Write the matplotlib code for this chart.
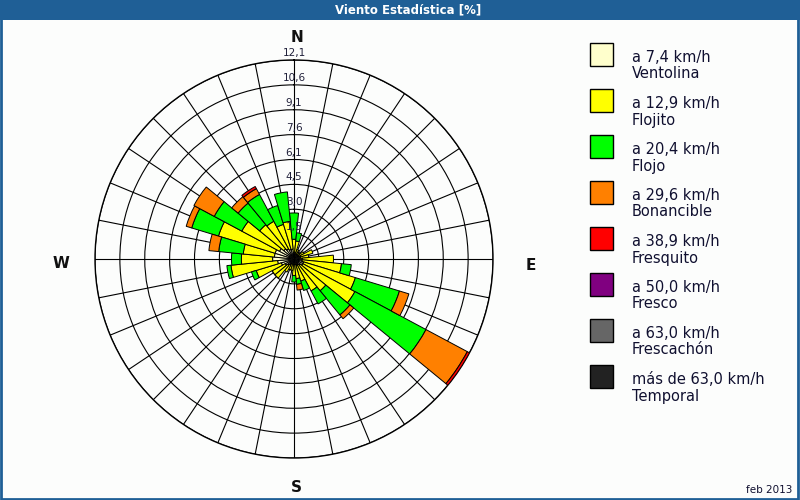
import numpy as np
import matplotlib
matplotlib.use('Agg')
import matplotlib.pyplot as plt
from matplotlib.patches import Rectangle

# 32 rumbos, cada 11,25 grados desde el N en sentido horario
rumbos = ['N', 'NpE', 'NNE', 'NEpN', 'NE', 'NEpE', 'ENE', 'EpN',
          'E', 'EpS', 'ESE', 'SEpE', 'SE', 'SEpS', 'SSE', 'SpE',
          'S', 'SpO', 'SSO', 'SOpS', 'SO', 'SOpO', 'OSO', 'OpS',
          'O', 'OpN', 'ONO', 'NOpO', 'NO', 'NOpN', 'NNO', 'NpO']

# porcentaje de cada clase de velocidad por rumbo (tramos apilados)
ventolina = [0.4, 0.4, 0.3, 0.3, 0.3, 0.3, 0.4, 0.4,
             0.5, 0.5, 0.6, 0.6, 0.5, 0.4, 0.4, 0.3,
             0.3, 0.3, 0.3, 0.4, 0.5, 0.6, 0.8, 1.0,
             1.3, 1.2, 1.2, 1.0, 0.8, 0.7, 0.6, 0.6]
flojito = [0.8, 0.7, 0.3, 0.2, 0.2, 0.4, 0.8, 0.5,
           1.9, 2.4, 3.3, 3.6, 2.0, 1.8, 1.0, 0.9,
           0.7, 0.4, 0.4, 0.5, 1.0, 0.9, 1.6, 2.85,
           1.9, 1.9, 3.6, 2.6, 1.9, 1.9, 1.6, 1.7]
flojo = [1.6, 0.5, 0.0, 0.0, 0.0, 0.0, 0.0, 0.0,
         0.0, 0.6, 2.8, 4.9, 1.9, 0.9, 0.6, 0.35,
         0.4, 0.0, 0.0, 0.0, 0.0, 0.0, 0.3, 0.25,
         0.6, 1.5, 1.7, 1.9, 1.7, 1.85, 1.2, 1.8]
bonancible = [0.0, 0.0, 0.0, 0.0, 0.0, 0.0, 0.0, 0.0,
              0.0, 0.0, 0.6, 2.85, 0.3, 0.0, 0.0, 0.35,
              0.0, 0.0, 0.0, 0.0, 0.0, 0.0, 0.0, 0.0,
              0.0, 0.6, 0.35, 1.4, 0.5, 0.4, 0.0, 0.0]
fresquito = [0.0] * 11 + [0.15] + [0.0] * 17 + [0.15] + [0.0] * 2

clases = [ventolina, flojito, flojo, bonancible, fresquito]
colores = ['#ffffcc', '#ffff00', '#00ff00', '#ff8000', '#ff0000',
           '#800080', '#666666', '#222222']
leyenda = [('a 7,4 km/h', 'Ventolina'), ('a 12,9 km/h', 'Flojito'),
           ('a 20,4 km/h', 'Flojo'), ('a 29,6 km/h', 'Bonancible'),
           ('a 38,9 km/h', 'Fresquito'), ('a 50,0 km/h', 'Fresco'),
           ('a 63,0 km/h', 'Frescachón'), ('más de 63,0 km/h', 'Temporal')]
anillos = [1.5125, 3.025, 4.5375, 6.05, 7.5625, 9.075, 10.5875, 12.1]
etiquetas_anillos = ['1,5', '3,0', '4,5', '6,1', '7,6', '9,1', '10,6', '12,1']

W, H = 800, 500
azul = '#1f5f96'
fondo = '#fcfdfc'


def fx(x):
    return x / W


def fy(y):
    return 1 - y / H


fig = plt.figure(figsize=(8, 5), dpi=100, facecolor=fondo)

# barra de titulo y marco
fig.patches.append(Rectangle((0, fy(20)), 1, 20 / H, transform=fig.transFigure,
                             facecolor=azul, edgecolor='none', zorder=0))
fig.patches.append(Rectangle((0.001, 0.002), 0.997, 0.996, transform=fig.transFigure,
                             facecolor='none', edgecolor=azul, lw=2, zorder=5))
fig.text(fx(408), fy(10), 'Viento Estadística [%]', color='white',
         fontsize=8.5, fontweight='bold', ha='center', va='center')

# rosa de los vientos
cx, cy, rad = 294, 259, 199
ax = fig.add_axes([fx(cx - rad), fy(cy + rad), 2 * rad / W, 2 * rad / H],
                  projection='polar')
ax.set_facecolor(fondo)
ax.set_theta_zero_location('N')
ax.set_theta_direction(-1)
ax.set_ylim(0, 12.1)
ax.set_rticks(anillos)
ax.set_yticklabels([])
ax.set_thetagrids(np.arange(0, 360, 11.25), labels=[])
ax.grid(True, color='black', lw=0.8)
ax.set_axisbelow(True)
ax.spines['polar'].set_color('black')
ax.spines['polar'].set_linewidth(1)

theta = np.deg2rad(np.arange(len(rumbos)) * 11.25)
ancho = np.deg2rad(11.25)
base = np.zeros(len(rumbos))
for vals, col in zip(clases, colores):
    vals = np.array(vals)
    mask = vals > 0
    ax.bar(theta[mask], vals[mask], width=ancho, bottom=base[mask],
           color=col, edgecolor='black', linewidth=0.7, zorder=3)
    base = base + vals

for r, txt in zip(anillos, etiquetas_anillos):
    ax.annotate(txt, xy=(0, r), xytext=(0, 5), textcoords='offset points',
                ha='center', va='center', fontsize=7.5, color='#20203a', zorder=4)

for txt, x, y in [('N', 297, 37), ('E', 531, 265), ('S', 296, 488), ('W', 61, 264)]:
    fig.text(fx(x), fy(y), txt, fontsize=11, fontweight='bold',
             ha='center', va='center', color='#101010')

# leyenda
for i, ((l1, l2), col) in enumerate(zip(leyenda, colores)):
    y0 = 43 + i * 46
    fig.patches.append(Rectangle((fx(590), fy(y0 + 23)), 23 / W, 23 / H,
                                 transform=fig.transFigure, facecolor=col,
                                 edgecolor='black', lw=1))
    fig.text(fx(632), fy(y0 + 14), l1, fontsize=10.5, ha='left', va='center',
             color='#101030')
    fig.text(fx(632), fy(y0 + 31), l2, fontsize=10.5, ha='left', va='center',
             color='#101030')

fig.text(fx(792), fy(490), 'feb 2013', fontsize=7.5, ha='right', va='center',
         color='#101030')

fig.savefig('out.png', dpi=100, facecolor=fondo)
